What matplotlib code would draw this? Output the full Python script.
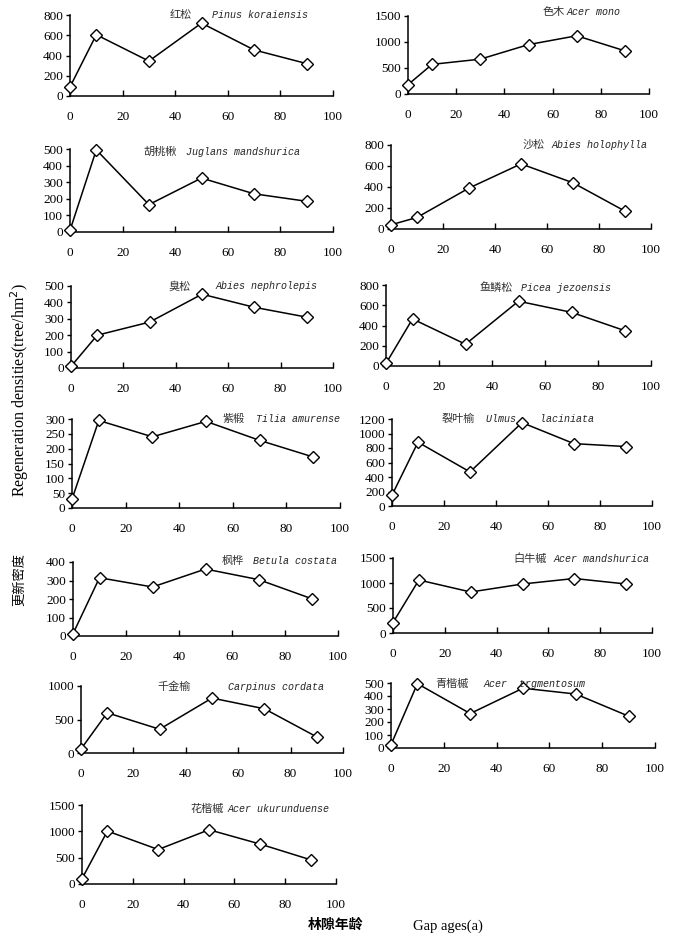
import matplotlib
matplotlib.use('Agg')
import matplotlib.pyplot as plt

plt.rcParams['font.family'] = ['Liberation Serif', 'Noto Sans CJK SC']

W, H = 678, 949

gap_age = [0, 10, 30, 50, 70, 90]

# regeneration densities (tree/hm2)
hongsong = [90, 605, 345, 720, 455, 320]
semu = [180, 570, 670, 950, 1120, 830]
hutaoqiu = [10, 495, 165, 325, 230, 185]
shasong = [40, 110, 390, 620, 440, 170]
chousong = [10, 200, 280, 450, 370, 310]
yulinsong = [25, 465, 215, 640, 530, 350]
ziduan = [30, 295, 240, 292, 228, 172]
lieyeyu = [150, 880, 470, 1150, 860, 820]
fenghua = [12, 315, 265, 362, 305, 202]
bainiuqi = [210, 1060, 820, 980, 1090, 980]
qianjinyu = [60, 600, 355, 820, 660, 240]
qingkaiqi = [25, 495, 265, 460, 415, 245]
huakaiqi = [100, 1005, 655, 1030, 760, 460]

cn_names = ['红松', '色木', '胡桃楸', '沙松', '臭松', '鱼鳞松', '紫椴',
            '裂叶榆', '枫桦', '白牛槭', '千金榆', '青楷槭', '花楷槭']
lat_names = ['Pinus koraiensis', 'Acer mono', 'Juglans mandshurica',
             'Abies holophylla', 'Abies nephrolepis', 'Picea jezoensis',
             'Tilia amurense', 'Ulmus    laciniata', 'Betula costata',
             'Acer mandshurica', 'Carpinus cordata', 'Acer  trgmentosum',
             'Acer ukurunduense']
series = [hongsong, semu, hutaoqiu, shasong, chousong, yulinsong, ziduan,
          lieyeyu, fenghua, bainiuqi, qianjinyu, qingkaiqi, huakaiqi]
ymax = [800, 1500, 500, 800, 500, 800, 300, 1200, 400, 1500, 1000, 500, 1500]
ystep = [200, 500, 100, 200, 100, 200, 50, 200, 100, 500, 500, 100, 500]

# panel boxes in pixels: left, top, right, bottom
boxes = [(70, 15, 333, 96), (408, 16, 649, 94),
         (70, 149, 333, 232), (391, 145, 651, 229),
         (71, 286, 333, 368), (386, 285, 651, 366),
         (72, 419, 340, 508), (392, 419, 652, 506),
         (73, 562, 338, 636), (393, 558, 652, 633),
         (81, 686, 343, 753), (391, 683, 655, 748),
         (82, 805, 336, 884)]
# title positions: chinese x, latin x, y
title_pos = [(170, 212, 15), (543, 567, 12), (143, 186, 152), (523, 552, 145),
             (168, 216, 286), (479, 521, 288), (223, 256, 419), (442, 486, 419),
             (222, 253, 561), (513, 554, 559), (157, 228, 687), (435, 484, 684),
             (190, 228, 809)]

fig = plt.figure(figsize=(W / 100, H / 100), dpi=100)

for i in range(len(series)):
    l, t, r, b = boxes[i]
    ax = fig.add_axes([l / W, 1 - b / H, (r - l) / W, (b - t) / H])
    ax.plot(gap_age, series[i], color='black', lw=1.1, marker='D', ms=6.5,
            mfc='white', mec='black', mew=1.0, clip_on=False, zorder=5)
    ax.set_xlim(0, 100)
    ax.set_ylim(0, ymax[i])
    ax.set_xticks(range(0, 101, 20))
    ax.set_yticks(range(0, ymax[i] + 1, ystep[i]))
    for s in ['top', 'right']:
        ax.spines[s].set_visible(False)
    for s in ['left', 'bottom']:
        ax.spines[s].set_linewidth(1.1)
    ax.tick_params(axis='x', direction='in', length=4, width=1, pad=11, labelsize=9.5)
    ax.tick_params(axis='y', direction='out', length=3, width=1, pad=2, labelsize=9.5)
    ax.set_facecolor('none')
    cx, lx, ty = title_pos[i]
    fig.text(cx / W, 1 - ty / H, cn_names[i], fontsize=8, va='center',
             family=['Noto Sans CJK SC'], color='#333333')
    fig.text(lx / W, 1 - ty / H, lat_names[i], fontsize=7.2, va='center',
             family=['Liberation Mono'], style='italic', color='#222222')

fig.text(20 / W, 1 - 390 / H, 'Regeneration densities(tree/hm$^2$)', rotation=90,
         ha='center', va='center', fontsize=11.5)
fig.text(20 / W, 1 - 580 / H, '更新密度', rotation=90, ha='center', va='center',
         fontsize=9.5, family=['Noto Sans CJK SC'])
fig.text(336 / W, 1 - 925 / H, '林隙年龄', ha='center', va='center', fontsize=10,
         family=['Noto Sans CJK SC'], weight='bold')
fig.text(448 / W, 1 - 926 / H, 'Gap ages(a)', ha='center', va='center', fontsize=10.5)

fig.savefig('out.png', dpi=100)
